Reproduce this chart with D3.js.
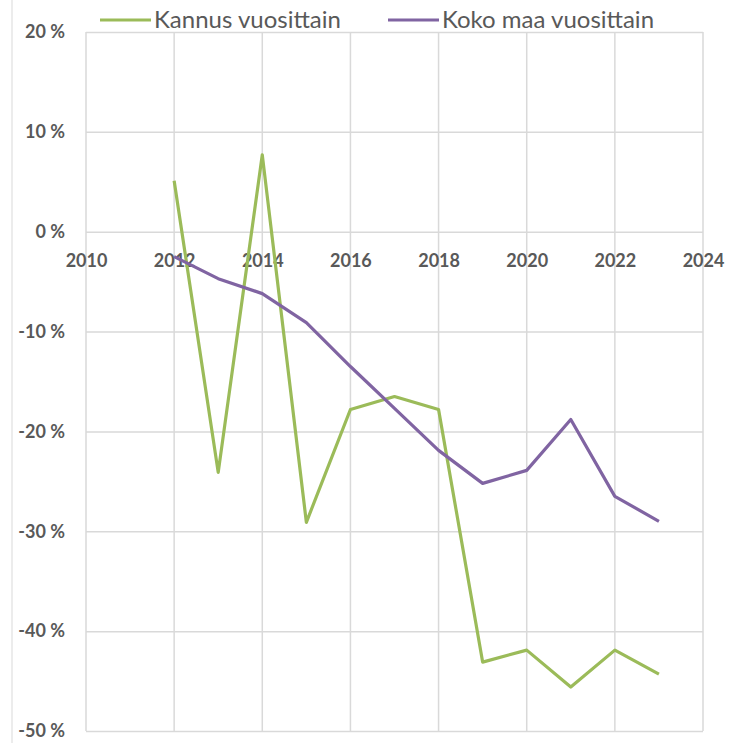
<!DOCTYPE html>
<html>
<head>
<meta charset="utf-8">
<script src="https://cdn.jsdelivr.net/npm/d3@7"></script>
<style>
  body { margin: 0; background: #fff; }
  svg { display: block; }
</style>
</head>
<body>
<svg id="chart" width="733" height="743"></svg>
<script>
// data
const years = [2012, 2013, 2014, 2015, 2016, 2017, 2018, 2019, 2020, 2021, 2022, 2023];
const kannus = [5.1, -24.1, 7.7, -29.1, -17.8, -16.5, -17.8, -43.1, -41.9, -45.6, -41.9, -44.3];
const kokoMaa = [-2.5, -4.7, -6.2, -9.1, -13.5, -17.7, -21.9, -25.2, -23.9, -18.8, -26.5, -29.0];
const xTicks = [2010, 2012, 2014, 2016, 2018, 2020, 2022, 2024];
const yTicks = [20, 10, 0, -10, -20, -30, -40, -50];
const seriesNames = ["Kannus vuosittain", "Koko maa vuosittain"];
const seriesColors = ["#9bbb59", "#8064a2"];

const svg = d3.select("#chart");
const textColor = "#595959";
const gridColor = "#d9d9d9";
const font = "Lato, 'Open Sans', sans-serif";

const x = d3.scaleLinear().domain([2010, 2024]).range([86, 703]);
const y = d3.scaleLinear().domain([-50, 20]).range([731, 32]);

// frame line on the far left
svg.append("line")
    .attr("x1", 12).attr("x2", 12)
    .attr("y1", 0).attr("y2", 743)
    .attr("stroke", "#e6e6e6")
    .attr("stroke-width", 1.5);

// horizontal grid + y labels
const yAxis = svg.append("g")
    .attr("transform", "translate(" + x(2010) + ",0)")
    .call(d3.axisLeft(y).tickValues(yTicks)
        .tickSize(-(x(2024) - x(2010)))
        .tickPadding(21)
        .tickFormat(d => d + " %"));
yAxis.select(".domain").remove();
yAxis.selectAll(".tick line").attr("stroke", gridColor).attr("stroke-width", 1.5);
yAxis.selectAll(".tick text")
    .attr("fill", textColor)
    .attr("font-family", font)
    .attr("font-weight", "bold")
    .attr("font-size", 18);

// vertical grid
svg.append("g").selectAll("line")
    .data(xTicks)
    .join("line")
    .attr("x1", d => x(d)).attr("x2", d => x(d))
    .attr("y1", y(20)).attr("y2", y(-50))
    .attr("stroke", gridColor)
    .attr("stroke-width", 1.5);

// x labels sit below the 0 % line
const xAxis = svg.append("g")
    .attr("transform", "translate(0," + y(0) + ")")
    .call(d3.axisBottom(x).tickValues(xTicks)
        .tickSize(0)
        .tickPadding(23)
        .tickFormat(d3.format("d")));
xAxis.select(".domain").remove();
xAxis.selectAll(".tick text")
    .attr("fill", textColor)
    .attr("font-family", font)
    .attr("font-weight", "bold")
    .attr("font-size", 18);

// lines
const line = d3.line()
    .x((d, i) => x(years[i]))
    .y(d => y(d));

[kannus, kokoMaa].forEach((vals, i) => {
    svg.append("path")
        .datum(vals)
        .attr("d", line)
        .attr("fill", "none")
        .attr("stroke", seriesColors[i])
        .attr("stroke-width", 3.2)
        .attr("stroke-linejoin", "round");
});

// legend
const legendX = [100, 388];
const legend = svg.append("g");
seriesNames.forEach((name, i) => {
    legend.append("line")
        .attr("x1", legendX[i]).attr("x2", legendX[i] + 51)
        .attr("y1", 20).attr("y2", 20)
        .attr("stroke", seriesColors[i])
        .attr("stroke-width", 3);
    legend.append("text")
        .attr("x", legendX[i] + 54)
        .attr("y", 28)
        .attr("fill", textColor)
        .attr("font-family", font)
        .attr("font-size", 24)
        .text(name);
});
</script>
</body>
</html>
